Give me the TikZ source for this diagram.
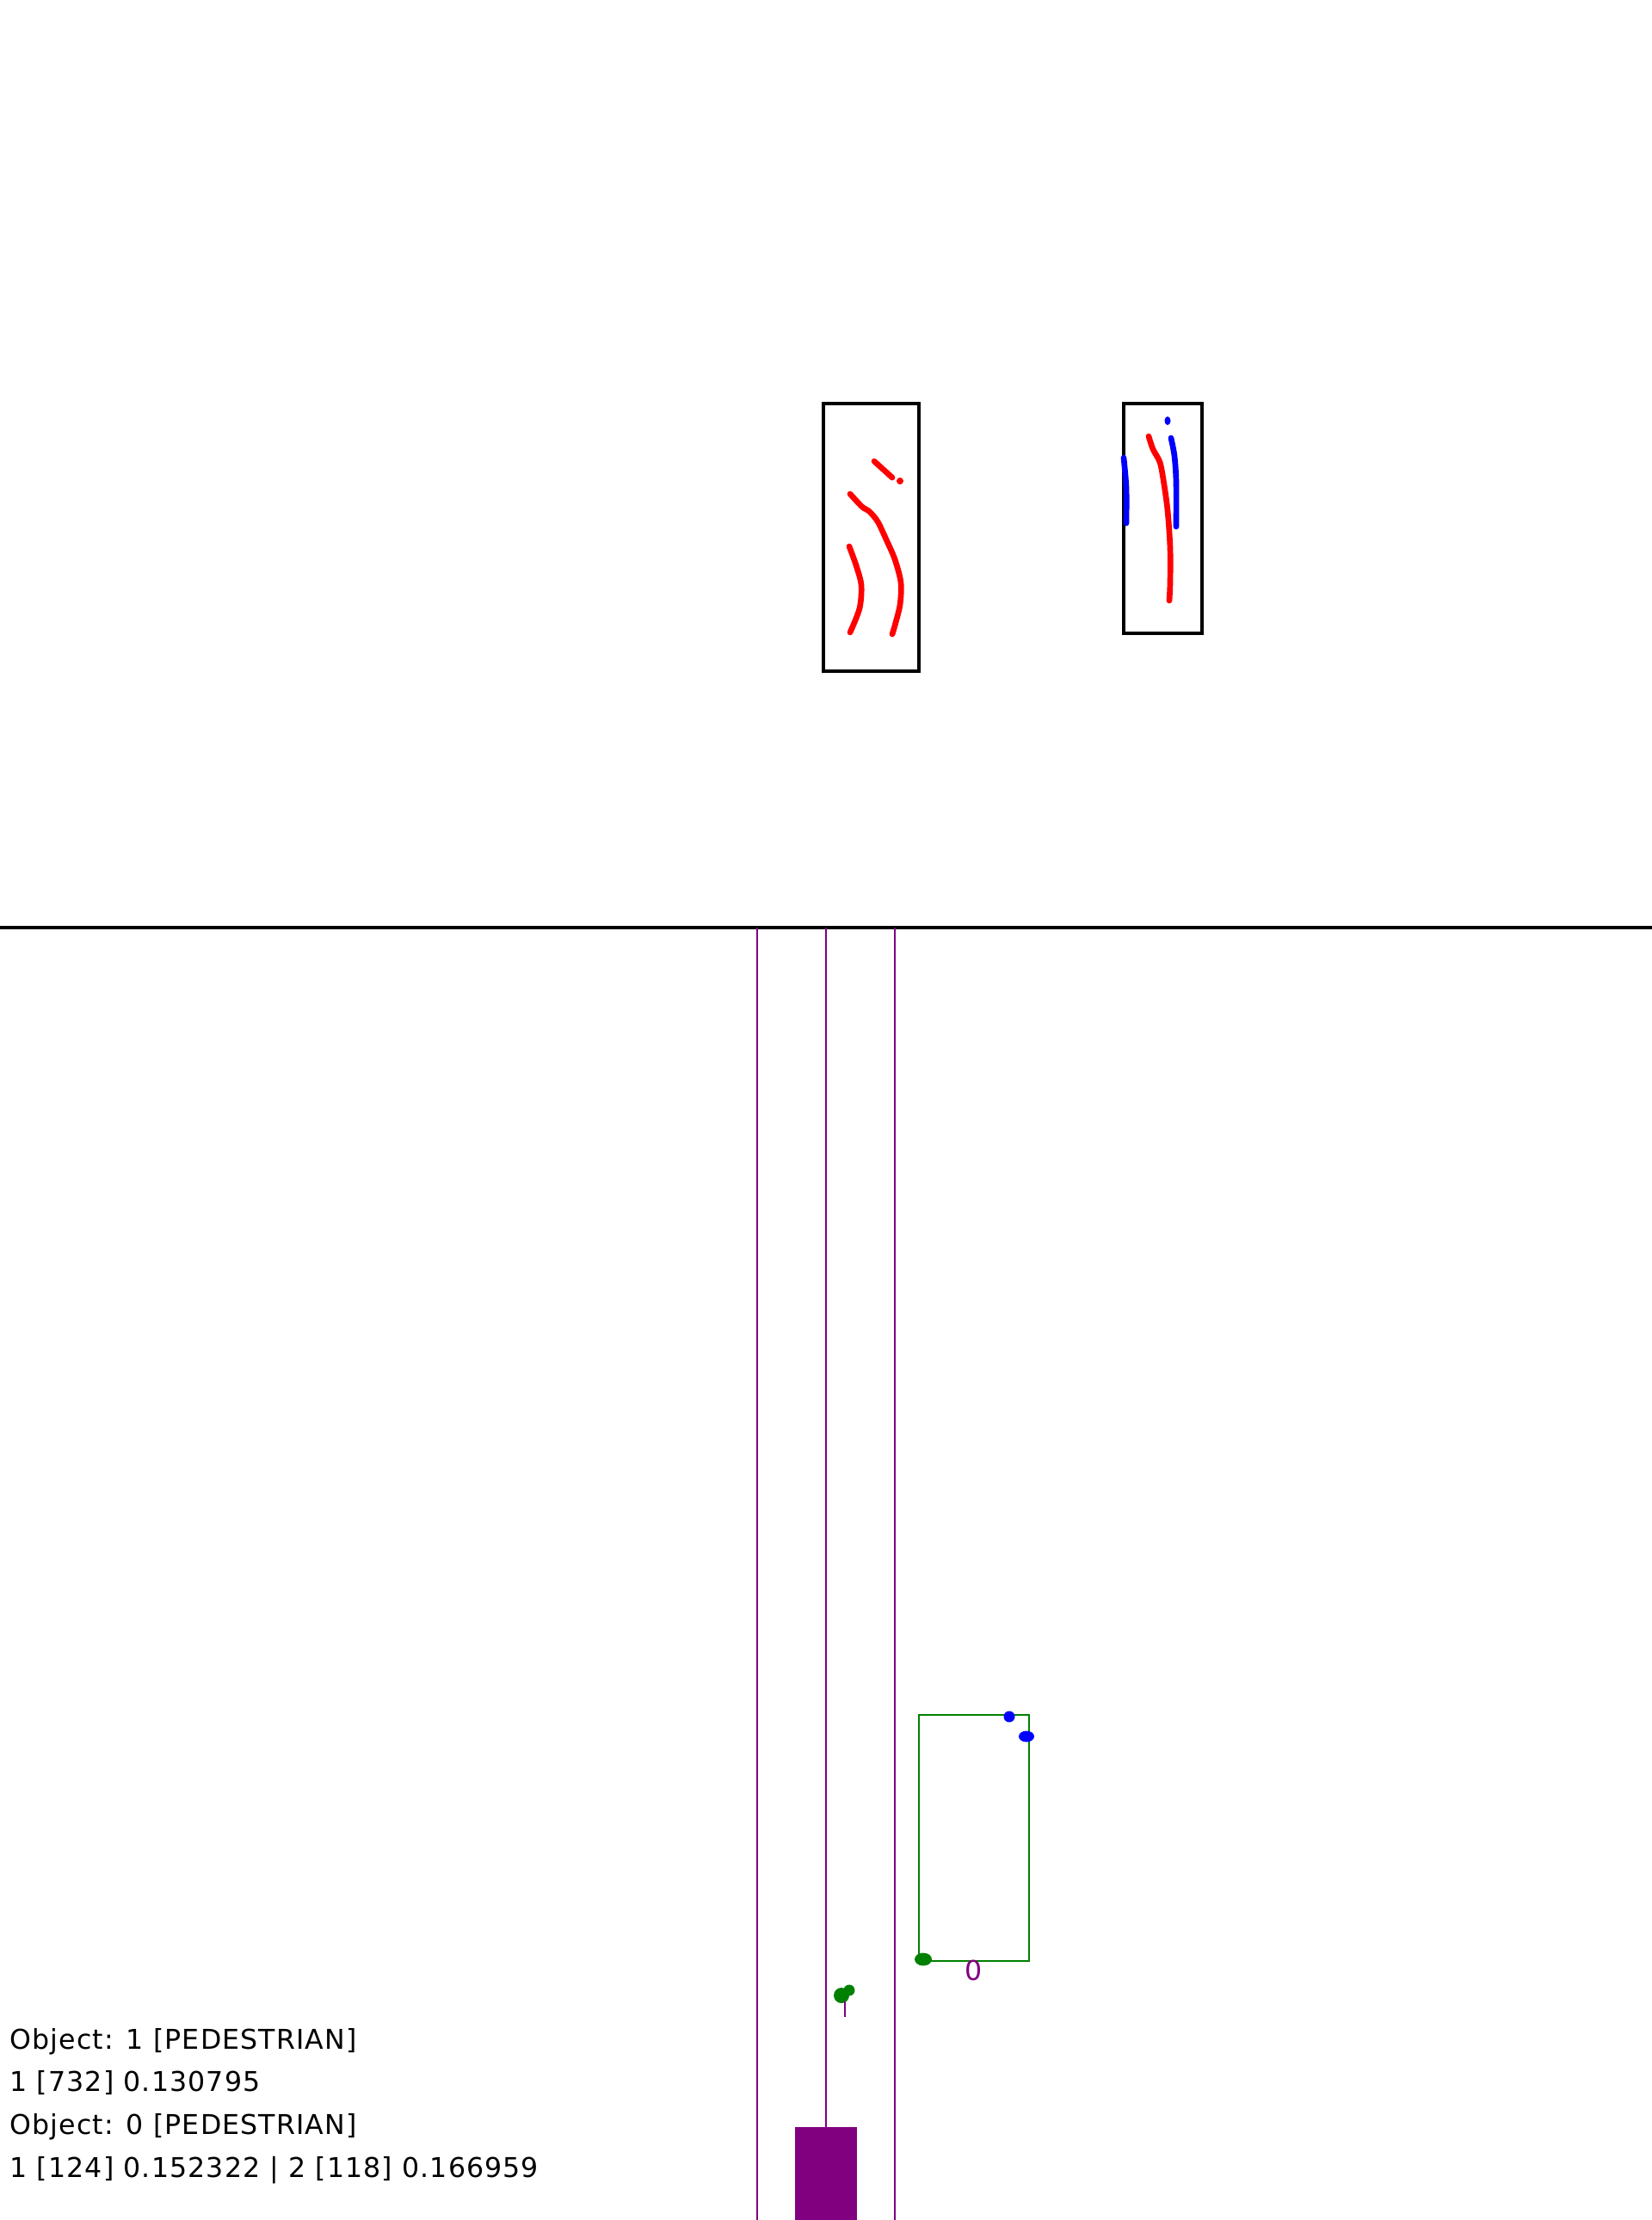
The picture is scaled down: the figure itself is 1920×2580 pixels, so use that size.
\documentclass[tikz,border=0pt]{standalone}
\usepackage{fontspec}
\setmainfont{DejaVu Sans}[LetterSpace=3.5]
\definecolor{lanepurple}{RGB}{128,0,128}
\definecolor{boxgreen}{RGB}{0,128,0}

\begin{document}
\begin{tikzpicture}[
  x=0.01cm, y=-0.01cm,
  frame/.style={draw=black, line width=0.95pt},
  lane/.style={draw=lanepurple, line width=0.8pt},
  track/.style={line width=1.9pt, line cap=round, line join=round},
  info/.style={anchor=base west, inner sep=0pt, font=\fontsize{9}{10}\selectfont},
]
\useasboundingbox (0,0) rectangle (1920,2580);

% Top view boxes
\draw[frame] (957,469) rectangle (1068,780);
\draw[frame] (1306,469) rectangle (1397,736);

% Red tracks in the left box
\draw[track, red] (1016,536) -- (1037,555);
\fill[red] (1046,559) circle (4);
\draw[track, red] plot[smooth] coordinates {(988,574) (1002,589) (1010,594) (1020,606) (1030,627) (1040,650) (1047,677) (1046,703) (1040,727) (1037,737)};
\draw[track, red] plot[smooth] coordinates {(987,635) (995,657) (1001,680) (999,707) (988,735)};

% Tracks in the right box
\fill[blue] (1357,489) ellipse (3.5 and 5);
\draw[track, red] plot[smooth] coordinates {(1335,507) (1340,522) (1348,537) (1352,557) (1357,593) (1360,637) (1360,677) (1359,698)};
\draw[track, blue] plot[smooth] coordinates {(1306,532) (1309,567) (1309,608)};
\draw[track, blue] plot[smooth] coordinates {(1361,509) (1365,530) (1367,560) (1367,612)};

% Horizon and lanes
\draw[line width=1.4pt] (0,1078) -- (1920,1078);
\foreach \lx in {880,960,1040}
  \draw[lane] (\lx,1078) -- (\lx,2580);

% Ego vehicle
\fill[lanepurple] (924,2472) rectangle (996,2580);

% Detected object 0
\draw[boxgreen, line width=0.8pt] (1068,1993) rectangle (1196,2279);
\fill[blue] (1173,1995) circle (6.5);
\fill[blue] (1193,2018) ellipse (9 and 6.5);
\fill[boxgreen] (1073,2277) ellipse (10 and 7.5);
\node[text=lanepurple, inner sep=0pt, font=\fontsize{9}{10}\selectfont] (lbl0) at (1132,2290) {0};

% Detected object 1
\fill[boxgreen] (978,2319) circle (9);
\fill[boxgreen] (987,2313) circle (6.5);
\draw[lanepurple, line width=0.6pt] (982,2326) -- (982,2344);

% Info text
\node[info] (obj1)  at (11,2381) {Object: 1 [PEDESTRIAN]};
\node[info] (obj1m) at (11,2430) {1 [732] 0.130795};
\node[info] (obj0)  at (11,2480) {Object: 0 [PEDESTRIAN]};
\node[info] (obj0m) at (11,2530) {1 [124] 0.152322 | 2 [118] 0.166959};

\end{tikzpicture}
\end{document}
